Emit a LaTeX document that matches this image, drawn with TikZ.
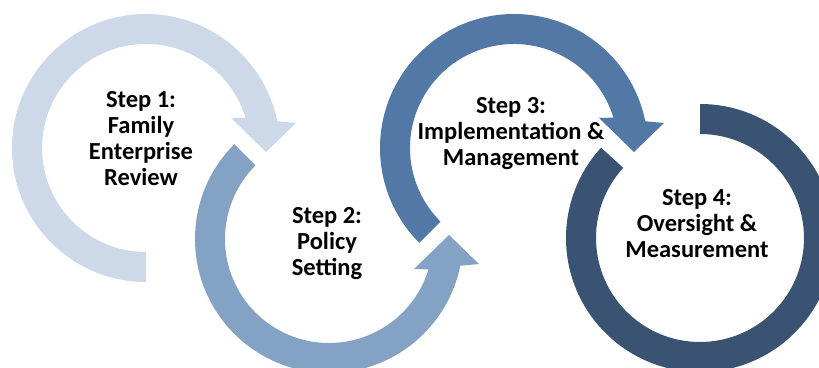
\documentclass[tikz,border=0pt]{standalone}
\usepackage{fontspec}
\setmainfont{Carlito}
\definecolor{ringone}{HTML}{CDD9E8}
\definecolor{ringtwo}{HTML}{84A2C4}
\definecolor{ringthree}{HTML}{5279A5}
\definecolor{ringfour}{HTML}{3A5372}
\tikzset{
    steptext/.style={align=center, font=\fontsize{24.5}{26}\selectfont\bfseries, text=black, inner sep=0pt},
}
\begin{document}
\begin{tikzpicture}[x=1pt, y=1pt]
    \clip (0,0) rectangle (819,367);
    \useasboundingbox (0,0) rectangle (819,367);

    % Step 1: light arrow, clockwise from the bottom
    \begin{scope}[shift={(146,219)}]
        \fill[ringone] (270:134) arc (270:11.5:134) -- (150,25) -- (120,-4) -- (85,30) -- (17:104) arc (17:270:104) -- cycle;
        \node[steptext] (step1) at (-5,9) {Step 1:\\Family\\Enterprise\\Review};
    \end{scope}

    % Step 2: medium arrow, counter-clockwise up to the right
    \begin{scope}[shift={(329,128)}]
        \fill[ringtwo] (135:134) arc (135:348.5:134) -- (150,-25) -- (120,4) -- (85,-30) -- (343:104) arc (343:135:104) -- cycle;
        \node[steptext] (step2) at (-2,-5) {Step 2:\\Policy\\Setting};
    \end{scope}

    % Step 3: darker arrow, clockwise from the lower left
    \begin{scope}[shift={(514,219)}]
        \fill[ringthree] (225:134) arc (225:11.5:134) -- (150,25) -- (120,-4) -- (85,30) -- (17:104) arc (17:225:104) -- cycle;
        \node[steptext] (step3) at (-3,14) {Step 3:\\Implementation \&\\Management};
    \end{scope}

    % Step 4: dark ring, no head
    \begin{scope}[shift={(700,129)}]
        \fill[ringfour] (90:134) arc (90:-222.4:134) -- (-222.4:104) arc (-222.4:90:104) -- cycle;
        \node[steptext] (step4) at (-3,14) {Step 4:\\Oversight \&\\Measurement};
    \end{scope}
\end{tikzpicture}
\end{document}
